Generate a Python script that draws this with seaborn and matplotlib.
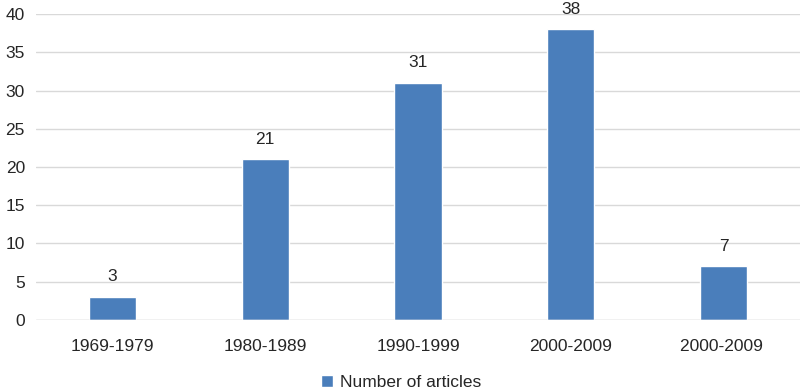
import matplotlib
matplotlib.use('Agg')
import matplotlib.pyplot as plt
import pandas as pd
import seaborn as sns

decades = ['1969-1979', '1980-1989', '1990-1999', '2000-2009', '2000-2009 ']
articles = [3, 21, 31, 38, 7]
series_name = 'Number of articles'

df = pd.DataFrame({'decade': decades, 'count': articles, 'series': series_name})

sns.set_style('white')
plt.rcParams['font.family'] = ['Liberation Sans', 'DejaVu Sans']

fig = plt.figure(figsize=(8, 3.91), dpi=100)
ax = fig.add_axes([0.045, 0.182, 0.955, 0.782])

sns.barplot(data=df, x='decade', y='count', hue='series', palette=['#4A7EBB'],
            width=0.31, ax=ax, saturation=1, legend=True)

for c in ax.containers:
    ax.bar_label(c, padding=9, fontsize=12.5)

ax.set_ylim(0, 40)
ax.set_yticks(range(0, 41, 5))
ax.set_xlim(-0.5, len(decades) - 0.5)
ax.yaxis.grid(True, color='#D9D9D9', linewidth=1)
ax.set_axisbelow(True)
ax.set_xlabel('')
ax.set_ylabel('')
ax.tick_params(axis='both', labelsize=12.5, length=0)
ax.tick_params(axis='x', pad=14)
ax.tick_params(axis='y', pad=8)
sns.despine(ax=ax, left=True, bottom=True)
ax.axhline(0, color='#D9D9D9', linewidth=1)

ax.legend(loc='lower center', bbox_to_anchor=(0.5 - 0.045 / 2, -0.28), frameon=False,
          fontsize=12.5, handlelength=0.7, handleheight=0.7, handletextpad=0.4)

fig.savefig('out.png', dpi=100)
